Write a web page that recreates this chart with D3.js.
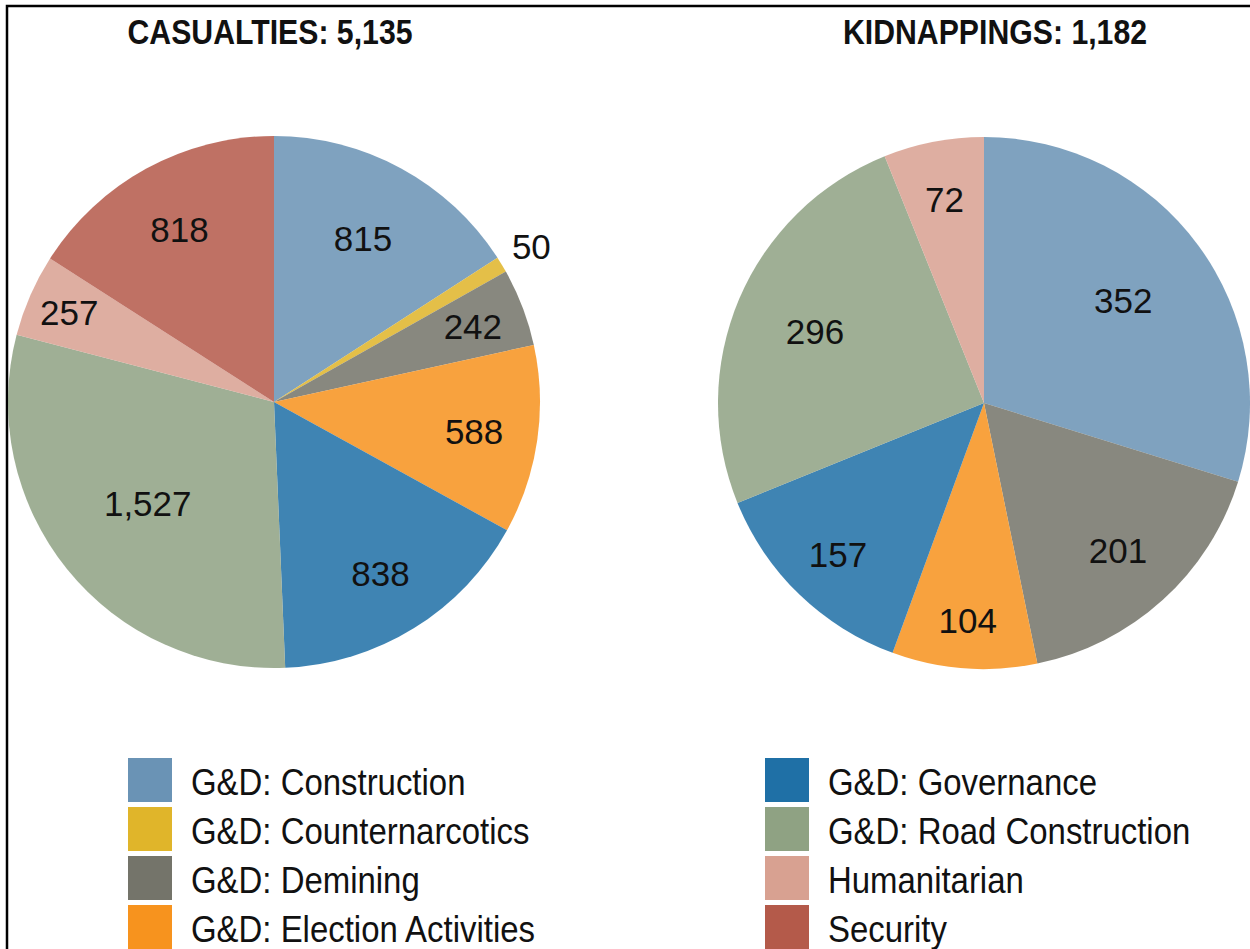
<!DOCTYPE html>
<html>
<head>
<meta charset="utf-8">
<script src="https://cdn.jsdelivr.net/npm/d3@7"></script>
<style>
  body { margin: 0; background: #fff; }
  svg { display: block; }
</style>
</head>
<body>
<div id="chart"></div>
<script>
(function () {

    // categories, in clockwise order from 12 o'clock
    var categories = ["G&D: Construction", "G&D: Counternarcotics", "G&D: Demining",
        "G&D: Election Activities", "G&D: Governance", "G&D: Road Construction",
        "Humanitarian", "Security"];

    var casualtyValues = [815, 50, 242, 588, 838, 1527, 257, 818];
    var kidnapValues = [352, 0, 201, 104, 157, 296, 72, 0];

    var titles = ["CASUALTIES: 5,135", "KIDNAPPINGS: 1,182"];

    // legend split into two columns
    var legendLeft = categories.slice(0, 4);
    var legendRight = categories.slice(4);

    /* appearance */
    var colors = ["#6a93b5", "#e0b52a", "#74746a", "#f7931e",
        "#1f70a6", "#8fa283", "#d8a191", "#b45a4a"];
    var color = d3.scaleOrdinal().domain(categories).range(colors);

    // how far out each label sits, as a share of the radius
    var labelPosLeft = [0.70, 1.13, 0.80, 0.76, 0.76, 0.61, 0.84, 0.74];
    var labelPosRight = [0.65, 0, 0.75, 0.82, 0.79, 0.69, 0.78, 0];

    var width = 1250, height = 949;
    var radius = 266;
    var textFont = "'Liberation Sans', Arial, sans-serif";

    var svg = d3.select("#chart").append("svg")
        .attr("width", width)
        .attr("height", height);

    // frame lines (left and top only are visible)
    svg.append("path")
        .attr("d", "M7,949 L7,6 L1250,6")
        .attr("fill", "none")
        .attr("stroke", "#000")
        .attr("stroke-width", 2.5);

    var pie = d3.pie()
        .sort(null)
        .value(function (d) { return d.value; });

    var arc = d3.arc().innerRadius(0).outerRadius(radius);

    var charts = [
        { cx: 274, cy: 402, title: titles[0], values: casualtyValues, pos: labelPosLeft, tx: 270 },
        { cx: 984, cy: 403, title: titles[1], values: kidnapValues, pos: labelPosRight, tx: 995 }
    ];

    charts.forEach(function (c) {
        var data = categories.map(function (k, i) {
            return { key: k, value: c.values[i], pos: c.pos[i] };
        });

        // condensed bold headline
        svg.append("text")
            .attr("transform", "translate(" + c.tx + ",44) scale(0.84,1)")
            .attr("text-anchor", "middle")
            .style("font-family", textFont)
            .style("font-weight", "bold")
            .style("font-size", "36px")
            .attr("fill", "#111")
            .text(c.title);

        var g = svg.append("g")
            .attr("transform", "translate(" + c.cx + "," + c.cy + ")");

        var slices = pie(data).filter(function (d) { return d.data.value > 0; });

        g.selectAll(".arc")
            .data(slices)
            .enter().append("path")
            .attr("class", "arc")
            .attr("d", arc)
            .attr("fill", function (d) { return color(d.data.key); })
            .attr("fill-opacity", 0.86);

        g.selectAll(".lbl")
            .data(slices)
            .enter().append("text")
            .attr("class", "lbl")
            .attr("transform", function (d) {
                var r = radius * d.data.pos;
                var a = (d.startAngle + d.endAngle) / 2;
                return "translate(" + (Math.sin(a) * r) + "," + (-Math.cos(a) * r) + ")";
            })
            .attr("text-anchor", "middle")
            .attr("dy", "0.36em")
            .style("font-family", textFont)
            .style("font-size", "35px")
            .attr("fill", "#111")
            .text(function (d) { return d3.format(",")(d.data.value); });
    });

    /* legend */
    function legend(items, x) {
        var row = svg.selectAll(null)
            .data(items)
            .enter().append("g")
            .attr("transform", function (d, i) {
                return "translate(" + x + "," + (758 + i * 49) + ")";
            });
        row.append("rect")
            .attr("width", 44)
            .attr("height", 44)
            .attr("fill", function (d) { return color(d); });
        row.append("text")
            .attr("transform", "translate(63,37) scale(0.89,1)")
            .style("font-family", textFont)
            .style("font-size", "37px")
            .attr("fill", "#111")
            .text(function (d) { return d; });
    }
    legend(legendLeft, 128);
    legend(legendRight, 765);
})();
</script>
</body>
</html>
